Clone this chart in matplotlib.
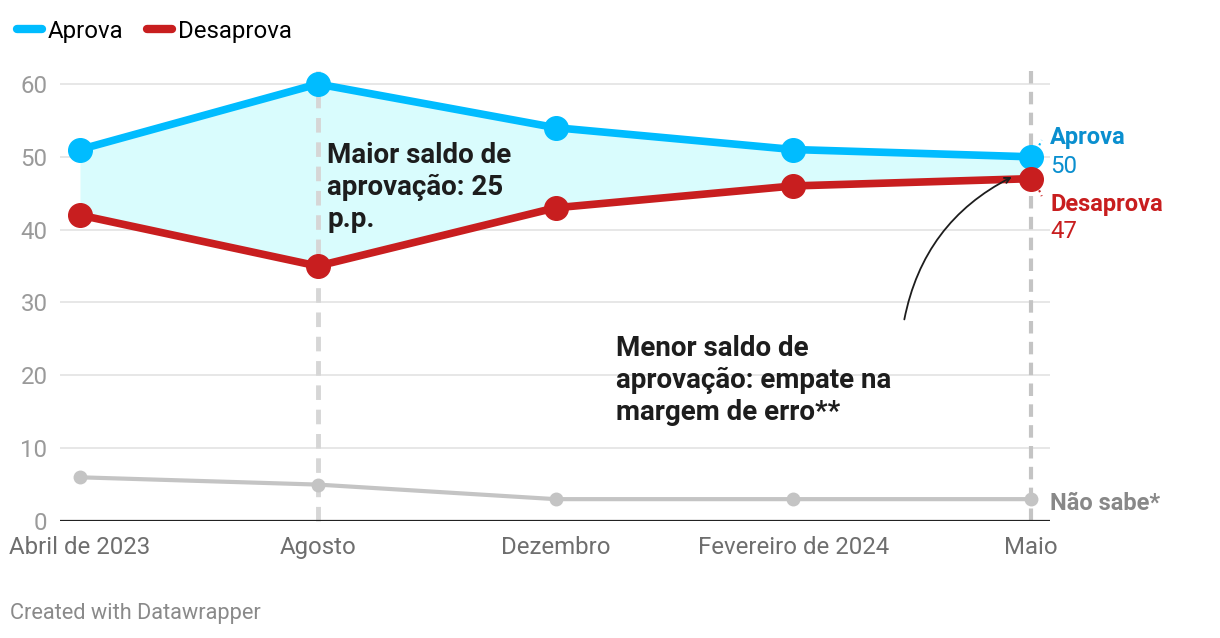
import numpy as np
import matplotlib.pyplot as plt
from matplotlib.lines import Line2D

plt.rcParams['font.family'] = ['Roboto', 'DejaVu Sans']

# data
meses = ["Abril de 2023", "Agosto", "Dezembro", "Fevereiro de 2024", "Maio"]
aprova = [51, 60, 54, 51, 50]
desaprova = [42, 35, 43, 46, 47]
nao_sabe = [6, 5, 3, 3, 3]
y_ticks = [0, 10, 20, 30, 40, 50, 60]

azul = "#00bcff"
vermelho = "#c81e1f"
cinza = "#c4c4c4"

fig = plt.figure(figsize=(12.2, 6.38), dpi=100)
ax = fig.add_axes([60 / 1220, 117 / 638, 990 / 1220, (521 - 69.4) / 638])

x = np.arange(len(meses))
ax.set_xlim(-20 / 237.75, 4 + 19 / 237.75)
ax.set_ylim(0, 62)

# grid lines
for t in y_ticks[1:]:
    ax.axhline(t, color="#e3e3e3", lw=1.2, zorder=0)
ax.axhline(0, color="#222222", lw=1.6, zorder=5)

# vertical dashed highlights
ax.plot([1, 1], [0, 61.8], color="#d6d6d6", lw=3.5, ls=(0, (3, 2)), zorder=1, clip_on=False)
ax.plot([4, 4], [0, 61.8], color="#c4c4c4", lw=3, ls=(0, (3, 2)), zorder=1, clip_on=False)

ax.fill_between(x, aprova, desaprova, color="#d9fcfd", zorder=0.5, lw=0)

ax.plot(x, nao_sabe, color=cinza, lw=3, marker="o", ms=9, zorder=3)
ax.plot(x, aprova, color=azul, lw=5.5, marker="o", ms=17, zorder=4)
ax.plot(x, desaprova, color=vermelho, lw=5.5, marker="o", ms=17, zorder=4)

ax.set_xticks(x)
ax.set_xticklabels(meses, fontsize=17.3, color="#6e6e6e")
ax.set_yticks(y_ticks)
ax.set_yticklabels([str(t) for t in y_ticks], fontsize=17.3, color="#9a9a9a")
ax.tick_params(axis="x", length=0, pad=11)
ax.tick_params(axis="y", length=0, pad=9)
for s in ax.spines.values():
    s.set_visible(False)

# line end labels
ax.text(4.08, 52.6, "Aprova", color="#0a8fcf", fontsize=17, fontweight="bold", va="center")
ax.text(4.08, 48.7, "50", color="#0a8fcf", fontsize=17.3, va="center")
ax.text(4.08, 43.5, "Desaprova", color=vermelho, fontsize=17, fontweight="bold", va="center")
ax.text(4.08, 39.8, "47", color=vermelho, fontsize=17.3, va="center")
ax.text(4.08, 2.4, "Não sabe*", color="#888888", fontsize=17, fontweight="bold", va="center")
ax.plot([4.025, 4.045], [50.9, 52.3], color=azul, lw=1.5, ls=":")
ax.plot([4.025, 4.045], [46.1, 44.6], color=vermelho, lw=1.5, ls=":")

# annotations
ax.text(1.04, 45.8, "Maior saldo de\naprovação: 25\np.p.", fontsize=20, fontweight="bold",
        color="#1d1d1d", va="center", linespacing=1.22, zorder=6)
ax.text(2.254, 19.3, "Menor saldo de\naprovação: empate na\nmargem de erro**", fontsize=20,
        fontweight="bold", color="#1d1d1d", va="center", linespacing=1.22, zorder=6)
ax.annotate("", xy=(3.93, 47.4), xytext=(3.465, 27.3),
            arrowprops=dict(arrowstyle="->", color="#1d1d1d", lw=1.3,
                            connectionstyle="arc3,rad=-0.25"), zorder=6)

# legend
handles = [Line2D([], [], color=azul, lw=6, solid_capstyle="round"),
           Line2D([], [], color=vermelho, lw=6, solid_capstyle="round")]
fig.legend(handles, ["Aprova", "Desaprova"], loc="upper left", bbox_to_anchor=(0.0, 1 - 3 / 638),
           ncol=2, frameon=False, fontsize=17.3, handlelength=1.05, handletextpad=0.25,
           columnspacing=0.95, borderaxespad=0.4, borderpad=0.3)

fig.text(10 / 1220, 1 - 614 / 638, "Created with Datawrapper", fontsize=15.7, color="#8a8a8a", va="center")

fig.savefig("out.png", dpi=100)
